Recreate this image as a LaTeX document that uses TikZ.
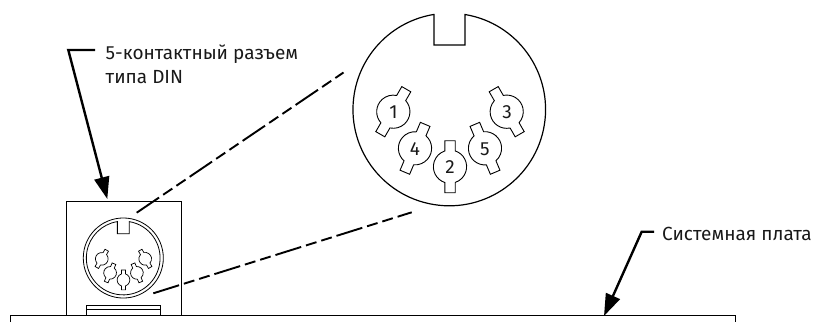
\documentclass[tikz,border=0pt]{standalone}
\usepackage{fontspec}
\setmainfont{Fira Sans}
\usetikzlibrary{arrows.meta}
\tikzset{
  x=1pt,y=-1pt,
  lbl/.style={inner sep=0,anchor=base west,font=\fontsize{19}{23}\selectfont,text=black!90},
  thin line/.style={line width=1pt,draw=black},
  leader/.style={line width=2.4pt,draw=black,-{Triangle[length=22pt,width=15pt]},line join=miter},
  dashline/.style={line width=1.9pt,draw=black,dash pattern=on 27pt off 5pt on 11pt off 5pt on 11pt off 5pt},
  pinnum/.style={inner sep=0,font=\fontsize{19}{23}\selectfont,text=black!90},
}
\newcommand{\pinshape}[4]{%
  \draw[line width=#4,fill=white,shift={(#1,#2)},rotate=#3]
    (-5.2,-15.8) -- (-5.2,-26) -- (5.2,-26) -- (5.2,-15.8)
    arc[start angle=-71.8,end angle=71.8,radius=16.6] -- (5.2,26) -- (-5.2,26) -- (-5.2,15.8)
    arc[start angle=108.2,end angle=251.8,radius=16.6] -- cycle;
}
\begin{document}
\begin{tikzpicture}
\useasboundingbox (0,0) rectangle (819,322);
% board
\draw[thin line] (10.7,322) -- (10.7,315.7) -- (735,315.7) -- (735,322);
% box
\draw[thin line] (66,315.7) -- (66,201) -- (181.3,201) -- (181.3,315.7);
\draw[line width=1.8pt] (66,315.5) -- (86,315.5) (160.7,315.5) -- (181.3,315.5);
\draw[thin line] (86,315.7) -- (86,305) -- (160.7,305) -- (160.7,315.7);
\draw[line width=.8pt] (86,309) -- (160.7,309);
% small connector
\begin{scope}[shift={(123.3,258)},scale=.383]
  \draw[line width=.8pt] (0,0) circle[radius=104.5];
  \draw[line width=.8pt,fill=white] (-15.5,-95) -- (-15.5,-63.5) -- (15.5,-63.5) -- (15.5,-95)
    arc[start angle=-80.6,end angle=260.6,radius=96.3] -- cycle;
  \pinshape{-56.2}{2.2}{-30}{.7pt}
  \pinshape{57.2}{2.2}{30}{.7pt}
  \pinshape{-34.5}{38.8}{-23}{.7pt}
  \pinshape{35.5}{38.8}{23}{.7pt}
  \pinshape{.5}{57.2}{0}{.7pt}
\end{scope}
% big connector
\begin{scope}[shift={(449.5,109.5)}]
  \draw[line width=1.2pt] (-15.5,-95) -- (-15.5,-64.5) -- (15.5,-64.5) -- (15.5,-95)
    arc[start angle=-80.6,end angle=260.6,radius=96.3] -- cycle;
  \pinshape{-56.2}{2.2}{-30}{.9pt}
  \pinshape{57.2}{2.2}{30}{.9pt}
  \pinshape{-34.5}{38.8}{-23}{.9pt}
  \pinshape{35.5}{38.8}{23}{.9pt}
  \pinshape{.5}{57.2}{0}{.9pt}
\end{scope}
\node[pinnum] (p1) at (393.6,112) {1};
\node[pinnum] (p3) at (507,112) {3};
\node[pinnum] (p4) at (415,149) {4};
\node[pinnum] (p5) at (485,149) {5};
\node[pinnum] (p2) at (450,167) {2};
% labels
\node[lbl] (din1) at (105.5,59) {5-контактный разъем};
\node[lbl] (din2) at (105.5,83.5) {типа DIN};
\node[lbl] (sys) at (662,240) {Системная плата};
% leaders
\coordinate (a0) at (95,50); \coordinate (a1) at (68.3,50); \coordinate (a2) at (107.3,199);
\draw[leader] (a0) -- (a1) -- (a2);
\coordinate (b0) at (654,231.7); \coordinate (b1) at (641.7,231.7); \coordinate (b2) at (604,316);
\draw[leader] (b0) -- (b1) -- (b2);
% dashes
\coordinate (d1) at (136.7,212.7); \coordinate (d2) at (343.5,72.5);
\coordinate (e1) at (153.3,293.3); \coordinate (e2) at (411.7,212.3);
\draw[dashline] (d1) -- (d2);
\draw[dashline] (e1) -- (e2);
\end{tikzpicture}
\end{document}
